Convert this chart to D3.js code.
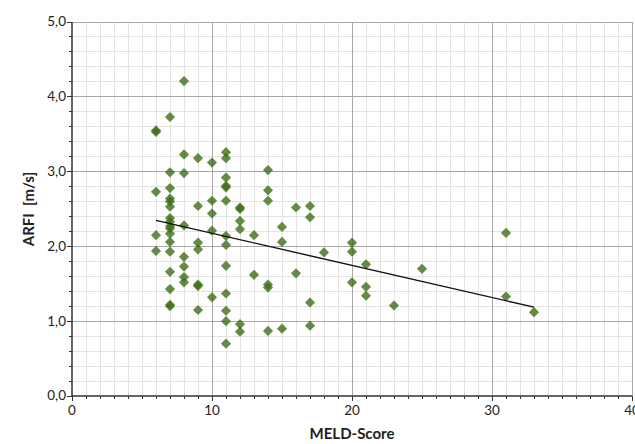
<!DOCTYPE html>
<html>
<head>
<meta charset="UTF-8">
<script src="https://cdn.jsdelivr.net/npm/d3@7"></script>
<style>
  body { margin: 0; background: #fff; }
  text { font-family: Lato, "Open Sans", sans-serif; fill: #222; }
  .tick-label { font-size: 13.5px; }
  .axis-title { font-size: 15px; font-weight: bold; white-space: pre; }
</style>
</head>
<body>
<div id="chart"></div>
<script>
// MELD score per patient (x) and ARFI velocity in m/s (y)
var meld = [
  6, 6, 6, 6, 6,
  7, 7, 7, 7, 7, 7, 7, 7, 7, 7, 7, 7, 7, 7, 7, 7, 7,
  8, 8, 8, 8, 8, 8, 8, 8,
  9, 9, 9, 9, 9, 9, 9,
  10, 10, 10, 10, 10,
  11, 11, 11, 11, 11, 11, 11, 11, 11, 11, 11, 11, 11,
  12, 12, 12, 12, 12, 12,
  13, 13,
  14, 14, 14, 14, 14, 14,
  15, 15, 15,
  16, 16,
  17, 17, 17, 17,
  18,
  20, 20, 20,
  21, 21, 21,
  23,
  25,
  31, 31,
  33
];
var arfi = [
  3.55, 3.53, 2.73, 2.15, 1.94,
  3.73, 2.99, 2.78, 2.64, 2.60, 2.53, 2.38, 2.33, 2.27, 2.24, 2.17, 2.06, 1.93, 1.66, 1.43, 1.22, 1.20,
  4.21, 3.23, 2.98, 2.28, 1.86, 1.73, 1.59, 1.52,
  3.18, 2.54, 2.05, 1.96, 1.49, 1.47, 1.15,
  3.12, 2.61, 2.44, 2.21, 1.32,
  3.26, 3.18, 2.92, 2.81, 2.79, 2.61, 2.14, 2.02, 1.74, 1.37, 1.14, 1.00, 0.70,
  2.52, 2.50, 2.34, 2.23, 0.96, 0.86,
  2.15, 1.62,
  3.02, 2.75, 2.61, 1.49, 1.45, 0.87,
  2.26, 2.06, 0.90,
  2.52, 1.64,
  2.54, 2.39, 1.25, 0.94,
  1.92,
  2.05, 1.93, 1.52,
  1.76, 1.46, 1.34,
  1.21,
  1.70,
  2.18, 1.33,
  1.12
];
var xTicks = [0, 10, 20, 30, 40];
var yTicks = [0, 1, 2, 3, 4, 5];

var width = 635, height = 444;
var margin = { top: 22, right: 3, bottom: 48, left: 72 };
var w = width - margin.left - margin.right,
    h = height - margin.top - margin.bottom;

var x = d3.scaleLinear().domain([0, 40]).range([0, w]);
var y = d3.scaleLinear().domain([0, 5]).range([h, 0]);

var svg = d3.select("#chart").append("svg")
    .attr("width", width)
    .attr("height", height);

var g = svg.append("g")
    .attr("transform", "translate(" + margin.left + "," + margin.top + ")");

// minor grid: 1 unit in x, 0.2 in y
var xMinor = d3.range(1, 40, 1).filter(function (d) { return d % 10 !== 0; });
var yMinor = d3.range(1, 25, 1).filter(function (d) { return d % 5 !== 0; }).map(function (d) { return d / 5; });

g.append("g").selectAll("line").data(xMinor).join("line")
    .attr("x1", x).attr("x2", x).attr("y1", 0).attr("y2", h)
    .attr("stroke", "#e3e3e3").attr("shape-rendering", "crispEdges");
g.append("g").selectAll("line").data(yMinor).join("line")
    .attr("y1", y).attr("y2", y).attr("x1", 0).attr("x2", w)
    .attr("stroke", "#e3e3e3").attr("shape-rendering", "crispEdges");

// major grid
g.append("g").selectAll("line").data(xTicks.slice(1)).join("line")
    .attr("x1", x).attr("x2", x).attr("y1", 0).attr("y2", h)
    .attr("stroke", "#a8a8a8").attr("shape-rendering", "crispEdges");
g.append("g").selectAll("line").data(yTicks.slice(1)).join("line")
    .attr("y1", y).attr("y2", y).attr("x1", 0).attr("x2", w)
    .attr("stroke", "#a8a8a8").attr("shape-rendering", "crispEdges");

var fmt = function (d) { return d3.format(".1f")(d).replace(".", ","); };

// y axis
var yAxis = g.append("g").attr("class", "y axis");
yAxis.append("line").attr("x1", 0).attr("x2", 0).attr("y1", 0).attr("y2", h)
    .attr("stroke", "#333").attr("stroke-width", 1.5);
yAxis.selectAll(".minor").data(yMinor).join("line")
    .attr("class", "minor")
    .attr("x1", -3).attr("x2", 0).attr("y1", y).attr("y2", y)
    .attr("stroke", "#333").attr("shape-rendering", "crispEdges");
yAxis.selectAll(".major").data(yTicks).join("line")
    .attr("class", "major")
    .attr("x1", -5).attr("x2", 0).attr("y1", y).attr("y2", y)
    .attr("stroke", "#333").attr("shape-rendering", "crispEdges");
yAxis.selectAll("text").data(yTicks).join("text")
    .attr("class", "tick-label")
    .attr("x", -6).attr("y", y).attr("dy", "0.32em")
    .attr("text-anchor", "end")
    .text(fmt);

// x axis
var xAxis = g.append("g").attr("class", "x axis").attr("transform", "translate(0," + h + ")");
xAxis.append("line").attr("x1", 0).attr("x2", w).attr("y1", 0).attr("y2", 0)
    .attr("stroke", "#333").attr("stroke-width", 1.5);
xAxis.selectAll(".minor").data(xMinor).join("line")
    .attr("class", "minor")
    .attr("x1", x).attr("x2", x).attr("y1", 0).attr("y2", 3)
    .attr("stroke", "#333").attr("shape-rendering", "crispEdges");
xAxis.selectAll(".major").data(xTicks).join("line")
    .attr("class", "major")
    .attr("x1", x).attr("x2", x).attr("y1", 0).attr("y2", 5)
    .attr("stroke", "#333").attr("shape-rendering", "crispEdges");
xAxis.selectAll("text").data(xTicks).join("text")
    .attr("class", "tick-label")
    .attr("x", x).attr("y", 19)
    .attr("text-anchor", "middle")
    .text(function (d) { return d; });

// axis titles
g.append("text").attr("class", "axis-title")
    .attr("x", w / 2).attr("y", h + 43)
    .attr("text-anchor", "middle")
    .text("MELD-Score");
g.append("text").attr("class", "axis-title")
    .attr("transform", "translate(" + (-38) + "," + (h / 2) + ") rotate(-90)")
    .attr("text-anchor", "middle")
    .text("ARFI  [m/s]");

// points
var pts = meld.map(function (d, i) { return { x: d, y: arfi[i] }; });
var diamond = d3.symbol().type(d3.symbolSquare).size(52);
g.append("g").selectAll("path").data(pts).join("path")
    .attr("d", diamond)
    .attr("transform", function (d) { return "translate(" + x(d.x) + "," + y(d.y) + ") rotate(45)"; })
    .attr("fill", "rgb(61,111,24)")
    .attr("fill-opacity", 0.8);

// least squares regression line, from min to max MELD
var mx = d3.mean(meld), my = d3.mean(arfi);
var sxy = d3.sum(meld, function (d, i) { return (d - mx) * (arfi[i] - my); });
var sxx = d3.sum(meld, function (d) { return (d - mx) * (d - mx); });
var slope = sxy / sxx, icpt = my - slope * mx;
var ext = d3.extent(meld);
g.append("path")
    .datum(ext)
    .attr("d", d3.line().x(function (d) { return x(d); }).y(function (d) { return y(icpt + slope * d); }))
    .attr("stroke", "#111").attr("stroke-width", 1.4).attr("fill", "none");
</script>
</body>
</html>
